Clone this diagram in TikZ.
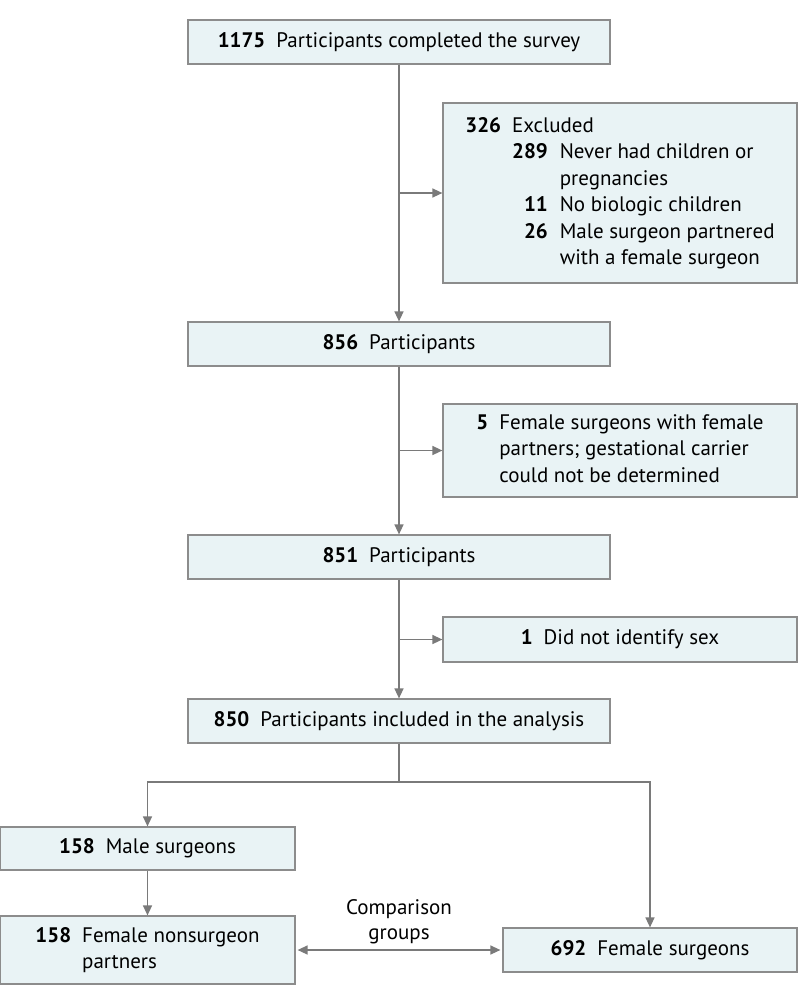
\documentclass[tikz,border=0pt]{standalone}
\usepackage{fontspec}
\setmainfont{PT Sans}
\usetikzlibrary{arrows.meta}
\definecolor{boxfill}{HTML}{E9F3F5}
\definecolor{boxline}{HTML}{8C8C8C}
\definecolor{arrline}{HTML}{7A7A7A}
\newcommand{\cnt}[1]{\textbf{#1}\hspace{11pt}}
\tikzset{
  flowbox/.style={draw=boxline, fill=boxfill, line width=1.2pt, inner sep=0pt, font=\fontsize{21}{26.5}\selectfont},
  mainbox/.style={flowbox, minimum width=422pt, minimum height=44pt},
  sidebox/.style={flowbox, minimum width=354pt},
  arr/.style={draw=arrline, line width=1.4pt, -{Triangle[length=10pt,width=9pt]}},
  dblarr/.style={draw=arrline, line width=1.4pt, {Triangle[length=10pt,width=9pt]}-{Triangle[length=10pt,width=9pt]}},
}
\begin{document}
\begin{tikzpicture}[x=1pt, y=-1pt]
\useasboundingbox (0,0) rectangle (798,1005);
\node[mainbox] (n1175) at (399,42) {\cnt{1175}Participants completed the survey};
\node[sidebox, minimum height=180pt] (excl1) at (620,193) {%
\begin{tabular}{@{}r@{\hspace{11pt}}r@{\hspace{12pt}}l@{}}
\textbf{326} & \multicolumn{2}{@{}l@{}}{Excluded}\\
 & \textbf{289} & Never had children or\\
 & & pregnancies\\
 & \textbf{11} & No biologic children\\
 & \textbf{26} & Male surgeon partnered\\
 & & with a female surgeon
\end{tabular}};
\node[mainbox] (n856) at (399,344) {\cnt{856}Participants};
\node[sidebox, minimum height=93pt] (excl2) at (620,450.5) {%
\begin{tabular}{@{}r@{\hspace{11pt}}l@{}}
\textbf{5} & Female surgeons with female\\
 & partners; gestational carrier\\
 & could not be determined
\end{tabular}};
\node[mainbox] (n851) at (399,557) {\cnt{851}Participants};
\node[sidebox, minimum height=45pt] (excl3) at (620,639.5) {\cnt{1}Did not identify sex};
\node[mainbox] (n850) at (399,721) {\cnt{850}Participants included in the analysis};
\node[flowbox, minimum width=295pt, minimum height=43pt] (male) at (147.5,848.5) {\cnt{158}Male surgeons};
\node[flowbox, minimum width=295pt, minimum height=68pt] (fns) at (147.5,950) {%
\begin{tabular}{@{}r@{\hspace{11pt}}l@{}}
\textbf{158} & Female nonsurgeon\\
 & partners
\end{tabular}};
\node[flowbox, minimum width=294pt, minimum height=44pt] (fsurg) at (650,950) {\cnt{692}Female surgeons};
\node[font=\fontsize{21}{25}\selectfont, align=center, inner sep=0pt] (cmp) at (399,922) {Comparison\\groups};
\coordinate (split) at (399,782);

\draw[arr] (n1175) -- (n856);
\draw[arr] (n1175.south |- excl1.west) -- (excl1);
\draw[arr] (n856) -- (n851);
\draw[arr] (n856.south |- excl2.west) -- (excl2);
\draw[arr] (n851) -- (n850);
\draw[arr] (n851.south |- excl3.west) -- (excl3);
\draw[draw=arrline, line width=1.4pt] (n850) -- (split);
\draw[arr] (split) -| (male);
\draw[arr] (split) -| (fsurg);
\draw[arr] (male) -- (fns);
\draw[dblarr, shorten <=2pt, shorten >=2pt] (fns) -- (fsurg);

\end{tikzpicture}
\end{document}
